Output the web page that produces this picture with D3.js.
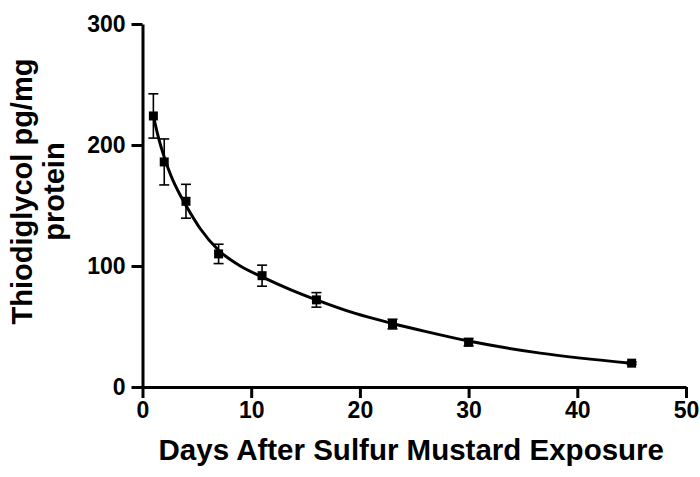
<!DOCTYPE html>
<meta charset="utf-8">
<title>Thiodiglycol decay</title>
<style>
body { margin: 0; background: #fff; }
text { font-family: "Liberation Sans", Arial, sans-serif; font-weight: bold; fill: #000; }
.axis path, .axis line { stroke: #000; stroke-width: 3; }
.axis text { font-size: 23px; font-family: "Liberation Sans", Arial, sans-serif; font-weight: bold; }
.curve { fill: none; stroke: #000; stroke-width: 3; }
.err { stroke: #000; stroke-width: 1.6; }
</style>
<body>
<script src="https://d3js.org/d3.v7.min.js"></script>
<script>

// measured points (mean, SEM)
var days = [1, 2, 4, 7, 11, 16, 23, 30, 45];
var means = [224, 186, 153.5, 110, 92, 72, 52, 37, 19.7];
var sems = [18.3, 19, 14, 8, 8.7, 6, 4, 3, 1];

// fitted curve
var curveDays = [1, 1.5, 2, 2.6, 3.5, 4, 5.3, 7, 9, 11, 13.6, 16, 19.5, 23, 26, 30, 36.6, 45];
var curveVals = [224, 205, 190, 175, 158, 150, 131, 113, 100, 91, 80.5, 72, 61, 52.5, 46, 38, 28, 19.7];

var xTicks = [0, 10, 20, 30, 40, 50];
var yTicks = [0, 100, 200, 300];

var margin = {top: 24, right: 14, bottom: 90, left: 142.5};

var svg = d3.select("body").append("svg")
    .attr("width", 700)
    .attr("height", 477)
  .append("g")
    .attr("transform", "translate(" + margin.left + "," + margin.top + ")");

var x = d3.scaleLinear().domain([0, 50]).range([0, 543.5]);
var y = d3.scaleLinear().domain([0, 300]).range([363, 0]);

// axes
var xAxis = svg.append("g")
    .attr("class", "axis")
    .attr("transform", "translate(0," + y(0) + ")")
    .call(d3.axisBottom(x).tickValues(xTicks).tickSize(11).tickSizeOuter(0).tickPadding(4));

var yAxis = svg.append("g")
    .attr("class", "axis")
    .call(d3.axisLeft(y).tickValues(yTicks).tickSize(11).tickSizeOuter(0).tickPadding(6));

xAxis.attr("font-size", null).attr("font-family", null);
yAxis.attr("font-size", null).attr("font-family", null);

// fitted line
var line = d3.line()
    .x(function(d, i) { return x(curveDays[i]); })
    .y(function(d) { return y(d); })
    .curve(d3.curveMonotoneX);

svg.append("path")
    .attr("class", "curve")
    .attr("d", line(curveVals));

// error bars
var pts = days.map(function(d, i) { return {day: d, mean: means[i], sem: sems[i]}; });
var cap = 5;

var eb = svg.append("g").selectAll("g")
    .data(pts)
    .enter().append("g");

eb.append("line").attr("class", "err")
    .attr("x1", function(d) { return x(d.day); })
    .attr("x2", function(d) { return x(d.day); })
    .attr("y1", function(d) { return y(d.mean + d.sem); })
    .attr("y2", function(d) { return y(d.mean - d.sem); });

eb.append("line").attr("class", "err")
    .attr("x1", function(d) { return x(d.day) - cap; })
    .attr("x2", function(d) { return x(d.day) + cap; })
    .attr("y1", function(d) { return y(d.mean + d.sem); })
    .attr("y2", function(d) { return y(d.mean + d.sem); });

eb.append("line").attr("class", "err")
    .attr("x1", function(d) { return x(d.day) - cap; })
    .attr("x2", function(d) { return x(d.day) + cap; })
    .attr("y1", function(d) { return y(d.mean - d.sem); })
    .attr("y2", function(d) { return y(d.mean - d.sem); });

// square markers
eb.append("rect")
    .attr("x", function(d) { return x(d.day) - 4.5; })
    .attr("y", function(d) { return y(d.mean) - 4.5; })
    .attr("width", 9)
    .attr("height", 9)
    .style("fill", "#000");

// axis titles
svg.append("text")
    .attr("x", x(25) - 3)
    .attr("y", 436)
    .attr("text-anchor", "middle")
    .style("font-size", "29.5px")
    .text("Days After Sulfur Mustard Exposure");

var yt = svg.append("text")
    .attr("transform", "translate(-121,167.5) rotate(-90)")
    .attr("text-anchor", "middle")
    .style("font-size", "29px");
yt.append("tspan").attr("x", 0).attr("dy", "0.35em").text("Thiodiglycol pg/mg");
yt.append("tspan").attr("x", 0).attr("dy", "1.12em").text("protein");

</script>
</body>
